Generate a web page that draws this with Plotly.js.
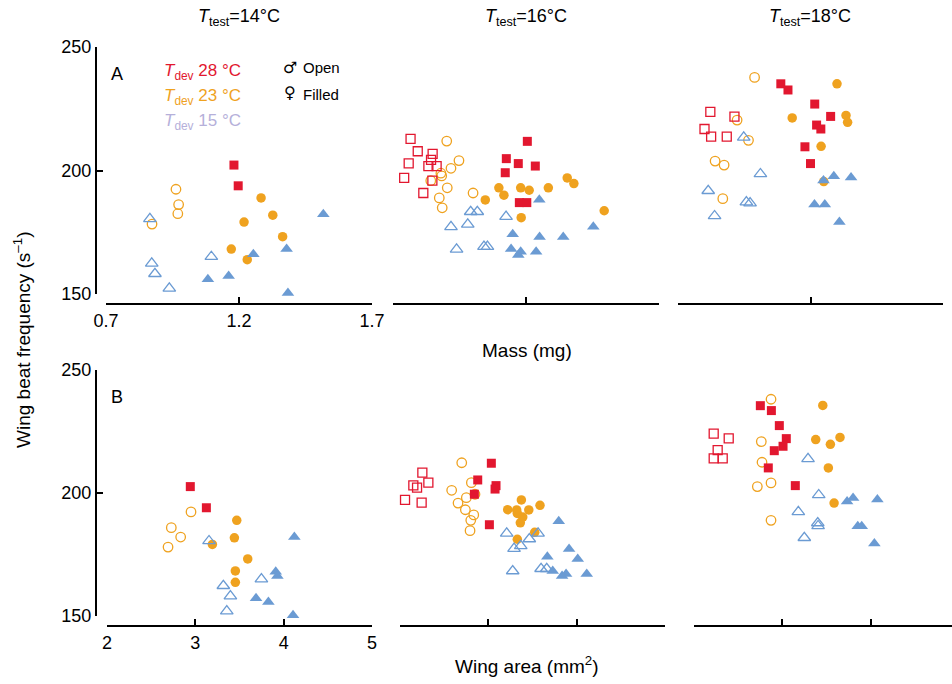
<!DOCTYPE html>
<html>
<head>
<meta charset="utf-8">
<script src="https://cdn.plot.ly/plotly-3.0.1.min.js"></script>
<style>html,body{margin:0;padding:0;background:#fff;}#chart{width:952px;height:684px;}</style>
</head>
<body>
<div id="chart"></div>
<script>
// ---------- Data ----------
// Row A: mass (mg) vs wing beat frequency (s^-1)
// T_test = 14 °C
const A14_28F_x = [1.181, 1.197];
const A14_28F_y = [202.2, 193.8];
const A14_23M_x = [0.963, 0.973, 0.970, 0.873];
const A14_23M_y = [192.4, 186.2, 182.5, 178.3];
const A14_23F_x = [1.283, 1.327, 1.219, 1.364, 1.171, 1.231];
const A14_23F_y = [188.9, 181.9, 179.1, 173.2, 168.2, 163.9];
const A14_15M_x = [0.865, 0.872, 0.884, 0.938, 1.096];
const A14_15M_y = [180.4, 162.4, 158.2, 152.3, 165.1];
const A14_15F_x = [1.517, 1.379, 1.254, 1.161, 1.083, 1.384];
const A14_15F_y = [182.3, 168.2, 166.1, 157.3, 156.0, 150.4];
// T_test = 16 °C
const A16_28M_x = [0.766, 0.793, 0.849, 0.759, 0.833, 0.864, 0.843, 0.742, 0.848, 0.814];
const A16_28M_y = [212.8, 207.8, 206.7, 202.9, 201.8, 201.8, 204.3, 197.0, 195.9, 190.9];
const A16_28F_x = [1.205, 1.126, 1.171, 1.235, 1.122, 1.175, 1.203];
const A16_28F_y = [211.8, 204.8, 202.8, 201.8, 199.1, 187.0, 187.0];
const A16_23M_x = [0.902, 0.948, 0.918, 0.880, 0.883, 0.842, 0.904, 1.001, 0.874, 0.885];
const A16_23M_y = [211.9, 204.0, 200.9, 198.9, 197.8, 195.9, 193.0, 190.9, 188.9, 184.9];
const A16_23F_x = [1.047, 1.098, 1.117, 1.180, 1.212, 1.284, 1.355, 1.380, 1.182, 1.494];
const A16_23F_y = [188.1, 193.0, 190.0, 193.0, 192.0, 193.0, 197.0, 194.7, 180.9, 183.7];
const A16_15M_x = [0.992, 1.017, 1.125, 0.918, 0.981, 0.939, 1.042, 1.055];
const A16_15M_y = [183.3, 183.3, 181.3, 177.2, 178.2, 168.1, 169.2, 169.2];
const A16_15F_x = [1.250, 1.150, 1.251, 1.340, 1.453, 1.144, 1.180, 1.171, 1.238];
const A16_15F_y = [188.2, 174.2, 173.1, 173.1, 177.2, 168.2, 167.1, 165.8, 167.1];
// T_test = 18 °C
const A18_28M_x = [0.822, 0.913, 0.800, 0.825, 0.884];
const A18_28M_y = [223.7, 221.8, 216.8, 213.7, 213.7];
const A18_28F_x = [1.088, 1.115, 1.216, 1.276, 1.223, 1.239, 1.179, 1.200];
const A18_28F_y = [235.1, 232.6, 226.9, 221.9, 218.4, 216.8, 209.6, 202.8];
const A18_23M_x = [0.989, 0.923, 0.966, 0.840, 0.874, 0.869];
const A18_23M_y = [237.7, 220.4, 212.2, 203.8, 202.2, 188.6];
const A18_23F_x = [1.300, 1.131, 1.334, 1.340, 1.240, 1.250];
const A18_23F_y = [235.1, 221.3, 222.3, 219.5, 209.8, 195.5];
const A18_15M_x = [0.948, 1.011, 0.814, 0.958, 0.972, 0.838];
const A18_15M_y = [213.4, 198.6, 191.8, 187.2, 186.8, 181.6];
const A18_15F_x = [1.249, 1.288, 1.353, 1.215, 1.254, 1.309];
const A18_15F_y = [196.0, 197.7, 197.2, 186.2, 186.2, 179.1];

// Row B: wing area (mm^2) vs wing beat frequency (s^-1)
// T_test = 14 °C
const B14_28F_x = [2.943, 3.125];
const B14_28F_y = [202.6, 194.0];
const B14_23M_x = [2.951, 2.728, 2.834, 2.691];
const B14_23M_y = [192.3, 185.9, 182.1, 178.0];
const B14_23F_x = [3.469, 3.442, 3.193, 3.593, 3.453, 3.453];
const B14_23F_y = [188.9, 181.8, 179.1, 173.2, 168.3, 163.7];
const B14_15M_x = [3.155, 3.748, 3.317, 3.397, 3.356];
const B14_15M_y = [180.5, 165.0, 162.3, 158.1, 152.0];
const B14_15F_x = [4.121, 3.910, 3.929, 3.687, 3.827, 4.106];
const B14_15F_y = [182.1, 168.0, 166.3, 157.2, 155.7, 150.3];
// T_test = 16 °C
const B16_28M_x = [2.253, 2.321, 2.151, 2.193, 2.057, 2.245];
const B16_28M_y = [208.3, 204.2, 203.1, 202.2, 197.2, 196.1];
const B16_28F_x = [3.034, 2.880, 3.087, 3.076, 2.842, 3.012];
const B16_28F_y = [212.1, 205.3, 203.0, 201.6, 199.5, 187.1];
const B16_23M_x = [2.699, 2.808, 2.585, 2.751, 2.657, 2.740, 2.835, 2.801, 2.793, 2.849];
const B16_23M_y = [212.3, 204.2, 201.1, 198.1, 195.9, 193.2, 191.1, 188.9, 184.7, 199.5];
const B16_23F_x = [3.374, 3.219, 3.321, 3.458, 3.585, 3.390, 3.362, 3.328, 3.525, 3.328];
const B16_23F_y = [197.2, 193.2, 193.1, 193.1, 195.0, 190.2, 187.9, 191.7, 184.0, 181.2];
const B16_15M_x = [3.208, 3.563, 3.464, 3.367, 3.291, 3.276, 3.597, 3.661];
const B16_15M_y = [183.6, 183.6, 181.3, 178.5, 177.4, 168.3, 169.2, 169.2];
const B16_15F_x = [3.797, 3.914, 3.668, 4.012, 3.729, 3.880, 3.835, 4.114];
const B16_15F_y = [188.5, 177.2, 174.1, 173.2, 168.3, 167.1, 166.3, 167.1];
// T_test = 18 °C
const B18_28M_x = [2.223, 2.393, 2.268, 2.223, 2.325];
const B18_28M_y = [224.1, 222.2, 217.4, 214.1, 214.1];
const B18_28F_x = [2.751, 2.876, 2.966, 3.045, 3.008, 2.909, 2.841, 3.147];
const B18_28F_y = [235.5, 233.5, 227.4, 222.1, 219.0, 217.2, 210.2, 203.0];
const B18_23M_x = [2.872, 2.762, 2.770, 2.872, 2.717, 2.872];
const B18_23M_y = [238.1, 220.9, 212.5, 204.1, 202.6, 188.9];
const B18_23F_x = [3.458, 3.378, 3.653, 3.544, 3.521, 3.586];
const B18_23F_y = [235.6, 221.7, 222.6, 219.8, 210.2, 195.9];
const B18_15M_x = [3.291, 3.412, 3.181, 3.401, 3.405, 3.249];
const B18_15M_y = [213.9, 199.2, 192.3, 187.8, 186.6, 181.8];
const B18_15F_x = [3.801, 3.733, 4.076, 3.854, 3.899, 4.042];
const B18_15F_y = [198.0, 196.5, 197.4, 186.5, 186.5, 179.5];

// Ticks and labels
const massTicks = [0.7, 1.2, 1.7];
const areaTicks = [2, 3, 4, 5];
const freqTicks = [150, 200, 250];
const testTemps = ['14', '16', '18'];

// ---------- Styling ----------
const W = 952, H = 684;
const FONT = 'Liberation Sans, Arial, Helvetica, sans-serif';
const COL = {'28': '#e2172f', '23': '#efa21f', '15': '#6b9bd3'};
const LEG15 = '#b5b0da';
const SYM = {'28': 'square', '23': 'circle', '15': 'triangle-up'};
const SIZE = {'28': 9, '23': 9.5, '15': 11};
const px = v => v / W;
const py = v => 1 - v / H;

const traces = [];
function add(xs, ys, dev, open, xa, ya) {
  traces.push({
    type: 'scatter', mode: 'markers', x: xs, y: ys, xaxis: xa, yaxis: ya,
    cliponaxis: false, showlegend: false, hoverinfo: 'x+y',
    marker: {
      symbol: SYM[dev] + (open ? '-open' : ''),
      size: SIZE[dev], color: COL[dev],
      line: {width: open ? 1.3 : 0, color: COL[dev]}
    }
  });
}
// row A
add(A14_23M_x, A14_23M_y, '23', true, 'x', 'y');
add(A14_23F_x, A14_23F_y, '23', false, 'x', 'y');
add(A14_28F_x, A14_28F_y, '28', false, 'x', 'y');
add(A14_15M_x, A14_15M_y, '15', true, 'x', 'y');
add(A14_15F_x, A14_15F_y, '15', false, 'x', 'y');

add(A16_23M_x, A16_23M_y, '23', true, 'x2', 'y');
add(A16_23F_x, A16_23F_y, '23', false, 'x2', 'y');
add(A16_28M_x, A16_28M_y, '28', true, 'x2', 'y');
add(A16_28F_x, A16_28F_y, '28', false, 'x2', 'y');
add(A16_15M_x, A16_15M_y, '15', true, 'x2', 'y');
add(A16_15F_x, A16_15F_y, '15', false, 'x2', 'y');

add(A18_23M_x, A18_23M_y, '23', true, 'x3', 'y');
add(A18_23F_x, A18_23F_y, '23', false, 'x3', 'y');
add(A18_28M_x, A18_28M_y, '28', true, 'x3', 'y');
add(A18_28F_x, A18_28F_y, '28', false, 'x3', 'y');
add(A18_15M_x, A18_15M_y, '15', true, 'x3', 'y');
add(A18_15F_x, A18_15F_y, '15', false, 'x3', 'y');
// row B
add(B14_23M_x, B14_23M_y, '23', true, 'x4', 'y2');
add(B14_23F_x, B14_23F_y, '23', false, 'x4', 'y2');
add(B14_28F_x, B14_28F_y, '28', false, 'x4', 'y2');
add(B14_15M_x, B14_15M_y, '15', true, 'x4', 'y2');
add(B14_15F_x, B14_15F_y, '15', false, 'x4', 'y2');

add(B16_23M_x, B16_23M_y, '23', true, 'x5', 'y2');
add(B16_23F_x, B16_23F_y, '23', false, 'x5', 'y2');
add(B16_28M_x, B16_28M_y, '28', true, 'x5', 'y2');
add(B16_28F_x, B16_28F_y, '28', false, 'x5', 'y2');
add(B16_15M_x, B16_15M_y, '15', true, 'x5', 'y2');
add(B16_15F_x, B16_15F_y, '15', false, 'x5', 'y2');

add(B18_23M_x, B18_23M_y, '23', true, 'x6', 'y2');
add(B18_23F_x, B18_23F_y, '23', false, 'x6', 'y2');
add(B18_28M_x, B18_28M_y, '28', true, 'x6', 'y2');
add(B18_28F_x, B18_28F_y, '28', false, 'x6', 'y2');
add(B18_15M_x, B18_15M_y, '15', true, 'x6', 'y2');
add(B18_15F_x, B18_15F_y, '15', false, 'x6', 'y2');

const axBase = {
  showline: true, linecolor: '#000', linewidth: 2, mirror: false,
  ticks: 'inside', ticklen: 6, tickwidth: 2, tickcolor: '#000',
  showgrid: false, zeroline: false, fixedrange: true,
  tickfont: {family: FONT, size: 18, color: '#000'}
};
function xax(l, r, range, ticks, labels, ypos) {
  return Object.assign({}, axBase, {
    domain: [px(l), px(r)], range: range, anchor: 'free', position: py(ypos),
    tickmode: 'array', tickvals: ticks, ticktext: ticks.map(String),
    showticklabels: labels
  });
}
function yax(t, b) {
  return Object.assign({}, axBase, {
    domain: [py(b), py(t)], range: [150, 250], anchor: 'free', position: px(96),
    tickmode: 'array', tickvals: freqTicks, ticktext: freqTicks.map(String)
  });
}

const annotations = [];
function ann(text, x, y, opts) {
  annotations.push(Object.assign({
    text: text, x: px(x), y: py(y), xref: 'paper', yref: 'paper',
    showarrow: false, xanchor: 'center', yanchor: 'middle',
    font: {family: FONT, size: 18, color: '#000'}
  }, opts || {}));
}
const colCenters = [239, 526, 810];
testTemps.forEach((t, i) => ann('<i>T</i><sub>test</sub>=' + t + '°C', colCenters[i], 17, {font: {family: FONT, size: 18, color: '#000'}}));
ann('A', 117, 74, {font: {family: FONT, size: 18, color: '#000'}});
ann('B', 117, 397, {font: {family: FONT, size: 18, color: '#000'}});
ann('<i>T</i><sub>dev</sub> 28 °C', 162, 72, {xanchor: 'left', font: {family: FONT, size: 17, color: COL['28']}});
ann('<i>T</i><sub>dev</sub> 23 °C', 162, 97, {xanchor: 'left', font: {family: FONT, size: 17, color: COL['23']}});
ann('<i>T</i><sub>dev</sub> 15 °C', 162, 122, {xanchor: 'left', font: {family: FONT, size: 17, color: LEG15}});
ann('\u2642', 290, 67, {font: {family: 'DejaVu Sans, sans-serif', size: 16, color: '#000'}});
ann('\u2640', 290, 93, {font: {family: 'DejaVu Sans, sans-serif', size: 16, color: '#000'}});
ann('Open', 301, 68, {xanchor: 'left', font: {family: FONT, size: 15, color: '#000'}});
ann('Filled', 301, 94, {xanchor: 'left', font: {family: FONT, size: 15, color: '#000'}});
ann('Mass (mg)', 527, 350, {font: {family: FONT, size: 19, color: '#000'}});
ann('Wing area (mm<sup>2</sup>)', 527, 665, {font: {family: FONT, size: 19, color: '#000'}});
ann('Wing beat frequency (s<sup>\u20131</sup>)', 22, 340, {textangle: -90, font: {family: FONT, size: 19, color: '#000'}});

const layout = {
  width: W, height: H, autosize: false,
  margin: {l: 0, r: 0, t: 0, b: 0, pad: 0},
  paper_bgcolor: '#fff', plot_bgcolor: 'rgba(0,0,0,0)',
  showlegend: false, font: {family: FONT, color: '#000'},
  xaxis:  xax(106, 372, [0.7, 1.7], massTicks, true, 304),
  xaxis2: xax(393, 659, [0.7, 1.7], massTicks, false, 304),
  xaxis3: xax(678, 943, [0.7, 1.7], massTicks, false, 304),
  xaxis4: xax(107, 372, [2, 5], areaTicks, true, 626),
  xaxis5: xax(400, 665, [2, 5], areaTicks, false, 626),
  xaxis6: xax(694, 952, [2, 2 + 258 / 88.33], areaTicks, false, 626),
  yaxis:  yax(47, 294),
  yaxis2: yax(370, 616),
  annotations: annotations
};
Plotly.newPlot('chart', traces, layout, {displayModeBar: false, staticPlot: true});
</script>
</body>
</html>
